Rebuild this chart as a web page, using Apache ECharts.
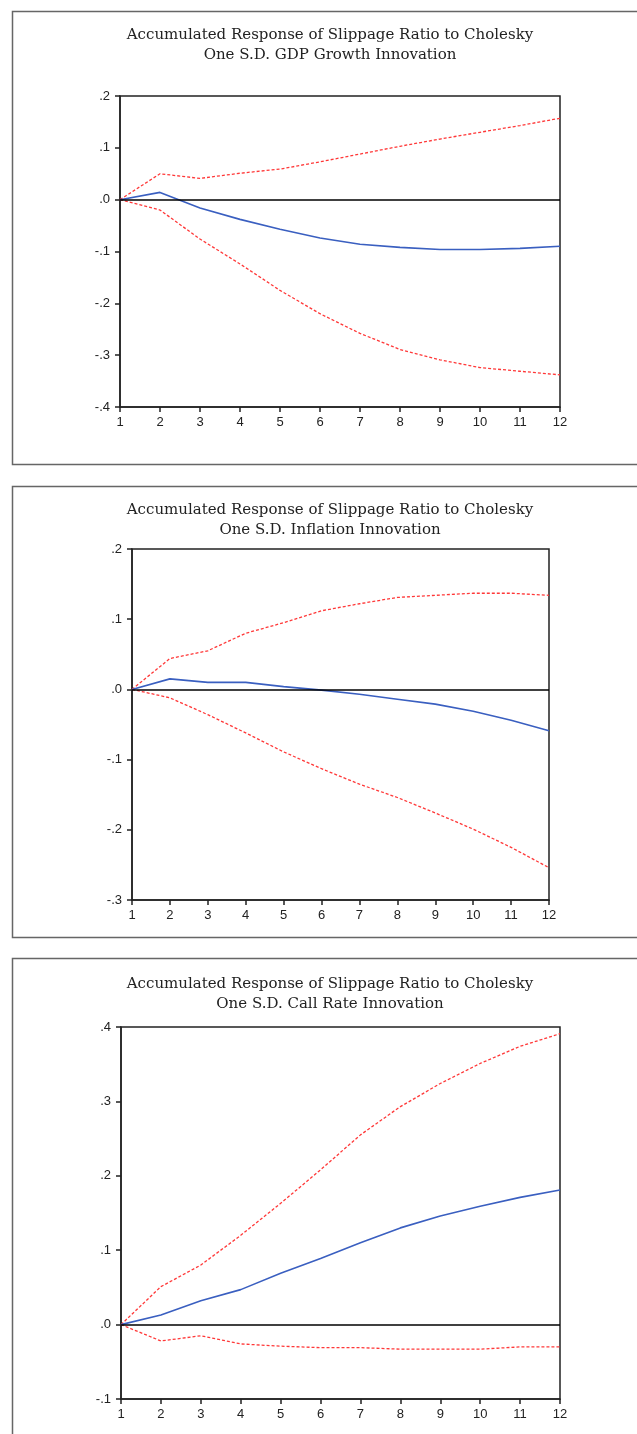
<!DOCTYPE html>
<html><head><meta charset="utf-8">
<script src="https://cdn.jsdelivr.net/npm/echarts@6/dist/echarts.min.js"></script>
<style>html,body{margin:0;padding:0;background:#fff}#c{width:637px;height:1434px}</style>
</head><body><div id="c"></div>
<script>
// Horizon (periods)
const periods = [1,2,3,4,5,6,7,8,9,10,11,12];

// Panel 1: GDP Growth innovation
const gdpResp  = [0, 0.014, -0.016, -0.038, -0.057, -0.074, -0.086, -0.092, -0.096, -0.096, -0.094, -0.090];
const gdpUpper = [0, 0.050, 0.041, 0.051, 0.059, 0.073, 0.088, 0.103, 0.117, 0.130, 0.143, 0.157];
const gdpLower = [0, -0.020, -0.076, -0.124, -0.175, -0.220, -0.258, -0.289, -0.309, -0.324, -0.331, -0.338];

// Panel 2: Inflation innovation
const infResp  = [0, 0.015, 0.010, 0.010, 0.004, -0.001, -0.007, -0.014, -0.021, -0.031, -0.044, -0.059];
const infUpper = [0, 0.044, 0.055, 0.080, 0.095, 0.112, 0.122, 0.131, 0.134, 0.137, 0.137, 0.134];
const infLower = [0, -0.012, -0.036, -0.062, -0.089, -0.113, -0.135, -0.154, -0.176, -0.199, -0.225, -0.254];

// Panel 3: Call Rate innovation
const crResp  = [0, 0.013, 0.032, 0.047, 0.069, 0.089, 0.110, 0.130, 0.146, 0.159, 0.171, 0.181];
const crUpper = [0, 0.051, 0.080, 0.120, 0.163, 0.208, 0.255, 0.293, 0.324, 0.351, 0.374, 0.391];
const crLower = [0, -0.022, -0.015, -0.026, -0.029, -0.031, -0.031, -0.033, -0.033, -0.033, -0.030, -0.030];

// Titles
const titleLine1 = 'Accumulated Response of Slippage Ratio to Cholesky';
const titleLine2 = ['One S.D. GDP Growth Innovation', 'One S.D. Inflation Innovation', 'One S.D. Call Rate Innovation'];

// Y tick labels per panel
const yTicks1 = ['.2', '.1', '.0', '-.1', '-.2', '-.3', '-.4'];
const yTicks2 = ['.2', '.1', '.0', '-.1', '-.2', '-.3'];
const yTicks3 = ['.4', '.3', '.2', '.1', '.0', '-.1'];

const panels = [
  {resp: gdpResp, up: gdpUpper, lo: gdpLower, ticks: yTicks1, grid: {left: 120, top: 96, width: 440, height: 311}, titleTop: 20, frame: [12, 11, 640, 453]},
  {resp: infResp, up: infUpper, lo: infLower, ticks: yTicks2, grid: {left: 132, top: 549, width: 417, height: 351}, titleTop: 495, frame: [12, 486, 640, 451]},
  {resp: crResp, up: crUpper, lo: crLower, ticks: yTicks3, grid: {left: 121, top: 1027, width: 439, height: 372}, titleTop: 969, frame: [12, 958, 640, 500]}
];

function tickVal(s){ return parseFloat(s.replace('.', '0.')); }

const option = {
  animation: false,
  backgroundColor: '#fff',
  title: [], grid: [], xAxis: [], yAxis: [], series: [],
  graphic: []
};

panels.forEach((p, i) => {
  const vals = p.ticks.map(tickVal);
  const ymax = Math.max(...vals), ymin = Math.min(...vals);
  const labelMap = {};
  p.ticks.forEach((t, k) => { labelMap[vals[k].toFixed(1)] = t; });
  option.graphic.push({type: 'rect', shape: {x: p.frame[0] + 0.5, y: p.frame[1] + 0.5, width: p.frame[2], height: p.frame[3]},
    style: {fill: 'none', stroke: '#666', lineWidth: 1.5}, silent: true});
  option.title.push({text: titleLine1 + '\n' + titleLine2[i], left: 325, top: p.titleTop, textAlign: 'center',
    textStyle: {fontFamily: 'DejaVu Serif', fontWeight: 'normal', fontSize: 15, lineHeight: 20, color: '#222'}});
  option.grid.push(Object.assign({show: true, borderColor: '#222', borderWidth: 1.5, backgroundColor: '#fff'}, p.grid));
  option.xAxis.push({type: 'value', gridIndex: i, min: 1, max: 12, interval: 1,
    axisLine: {onZero: false, lineStyle: {color: '#222', width: 1.5}},
    axisTick: {inside: false, length: 5, lineStyle: {color: '#222', width: 1.5}},
    axisLabel: {fontFamily: 'Liberation Sans', fontSize: 13, color: '#222', margin: 9},
    splitLine: {show: false}});
  option.yAxis.push({type: 'value', gridIndex: i, min: ymin, max: ymax, interval: 0.1,
    axisLine: {show: true, onZero: false, lineStyle: {color: '#222', width: 1.5}},
    axisTick: {show: true, inside: false, length: 5, lineStyle: {color: '#222', width: 1.5}},
    axisLabel: {fontFamily: 'Liberation Sans', fontSize: 13, color: '#222', margin: 10,
      formatter: v => labelMap[(Math.round(v * 10) / 10).toFixed(1)] || ''},
    splitLine: {show: false}});
  const mk = arr => periods.map((x, k) => [x, arr[k]]);
  option.series.push({type: 'line', xAxisIndex: i, yAxisIndex: i, data: mk(p.up), symbol: 'none',
    lineStyle: {color: '#ff3838', width: 1.3, type: [3, 2]}, z: 3,
    markLine: {silent: true, symbol: 'none', label: {show: false}, lineStyle: {color: '#000', width: 1.5, type: 'solid'}, data: [{yAxis: 0}]}});
  option.series.push({type: 'line', xAxisIndex: i, yAxisIndex: i, data: mk(p.lo), symbol: 'none',
    lineStyle: {color: '#ff3838', width: 1.3, type: [3, 2]}, z: 3});
  option.series.push({type: 'line', xAxisIndex: i, yAxisIndex: i, data: mk(p.resp), symbol: 'none',
    lineStyle: {color: '#3a5fc0', width: 1.6, type: 'solid'}, z: 4});
});

const chart = echarts.init(document.getElementById('c'), null, {renderer: 'canvas'});
chart.setOption(option);
</script></body></html>
